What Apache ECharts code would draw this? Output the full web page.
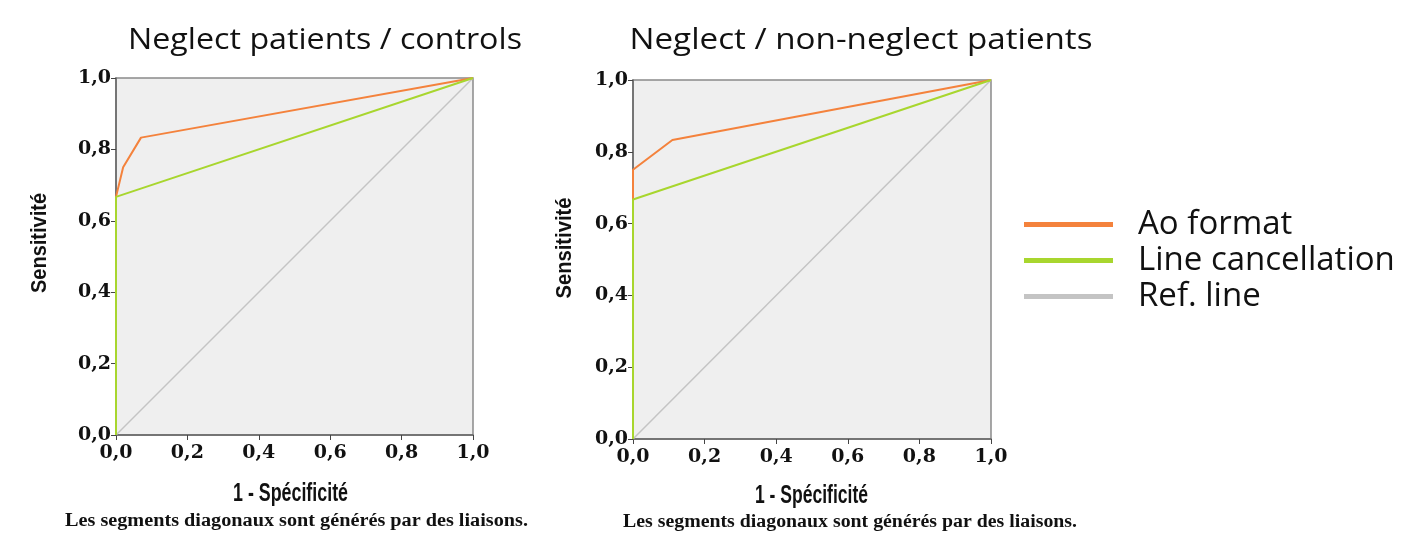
<!DOCTYPE html>
<html>
<head>
<meta charset="utf-8">
<script src="https://cdn.jsdelivr.net/npm/echarts@6/dist/echarts.min.js"></script>
<style>
html,body{margin:0;padding:0;background:#fff;}
#c{width:1404px;height:539px;}
</style>
</head>
<body>
<div id="c"></div>
<script>
// ---- data ----
const panelTitles = ['Neglect patients / controls', 'Neglect / non-neglect patients'];
const seriesNames = ['Ao format', 'Line cancellation', 'Ref. line'];
// points are [1 - specificity, sensitivity]
const aoLeft   = [[0,0],[0,0.667],[0.02,0.75],[0.07,0.833],[1,1]];
const lineLeft = [[0,0],[0,0.667],[1,1]];
const aoRight  = [[0,0],[0,0.75],[0.11,0.833],[1,1]];
const lineRight= [[0,0],[0,0.667],[1,1]];
const refLine  = [[0,0],[1,1]];
const xName = '1 - Spécificité';
const yName = 'Sensitivité';
const footnote = 'Les segments diagonaux sont générés par des liaisons.';

const colors = {'Ao format':'#f4823c','Line cancellation':'#a8d62e','Ref. line':'#c4c4c4'};
const serif = '"Liberation Serif","DejaVu Serif",serif';
const tickSerif = '"DejaVu Serif","Liberation Serif",serif';
const sansB = '"Liberation Sans",Arial,sans-serif';
const sans = '"Open Sans",Lato,sans-serif';

const grids = [
  {left:116, top:78, width:357, height:357},
  {left:633, top:80, width:358, height:359}
];

function fmt(v){ return v.toFixed(1).replace('.', ','); }

// text fitting helper: measure and compute horizontal scale to hit a target width
const mctx = document.createElement('canvas').getContext('2d');
function fitText(text, font, cx, cy, targetW, rot){
  mctx.font = font;
  const w = mctx.measureText(text).width;
  return {
    type:'text', x:cx, y:cy, rotation: rot||0, scaleX: targetW / w, silent:true,
    style:{text, font, fill:'#111', textAlign:'center', textVerticalAlign:'middle'}
  };
}

const xAxes = grids.map((g,i)=>({
  type:'value', gridIndex:i, min:0, max:1, interval:0.2,
  axisLine:{show:true, onZero:false, lineStyle:{color:'#666', width:1.5}},
  axisTick:{show:true, length:5, lineStyle:{color:'#444'}},
  axisLabel:{formatter:fmt, fontFamily:tickSerif, fontWeight:'bold', fontSize:19, color:'#111', margin:9},
  splitLine:{show:false}
}));
const yAxes = grids.map((g,i)=>({
  type:'value', gridIndex:i, min:0, max:1, interval:0.2,
  axisLine:{show:true, onZero:false, lineStyle:{color:'#666', width:1.5}},
  axisTick:{show:true, length:5, lineStyle:{color:'#444'}},
  axisLabel:{formatter:fmt, fontFamily:tickSerif, fontWeight:'bold', fontSize:19, color:'#111', margin:5},
  splitLine:{show:false}
}));

function mk(name, data, idx){
  return {
    name, type:'line', xAxisIndex:idx, yAxisIndex:idx, data,
    symbol:'none', animation:false,
    lineStyle:{color:colors[name], width: name==='Ref. line'?1.5:2},
    itemStyle:{color:colors[name]}
  };
}

// drawing order: ref line, Ao format, then Line cancellation on top (green visible on x=0 segment)
const series = [
  mk('Ref. line', refLine, 0), mk('Ao format', aoLeft, 0), mk('Line cancellation', lineLeft, 0),
  mk('Ref. line', refLine, 1), mk('Ao format', aoRight, 1), mk('Line cancellation', lineRight, 1)
];

const titleFont = '29px ' + sans;
const footFont = 'bold 18px ' + serif;
const nameFont = 'bold 25px ' + sansB;
const yNameFont = 'bold 22px ' + sansB;

const graphics = [
  fitText(panelTitles[0], titleFont, 325, 41, 394),
  fitText(panelTitles[1], titleFont, 861, 41, 463),
  fitText(xName, nameFont, 290.5, 494, 115),
  fitText(xName, nameFont, 811.5, 496, 113),
  fitText(yName, yNameFont, 40, 243, 100, Math.PI/2),
  fitText(yName, yNameFont, 565, 248, 101, Math.PI/2),
  fitText(footnote, footFont, 296.5, 521, 463),
  fitText(footnote, footFont, 850, 522, 454)
];

const chart = echarts.init(document.getElementById('c'), null, {renderer:'canvas'});
chart.setOption({
  backgroundColor:'#fff',
  animation:false,
  legend:{
    data:seriesNames, orient:'vertical', left:1024, top:208, padding:0,
    itemWidth:89, itemHeight:5, itemGap:3, icon:'rect',
    textStyle:{fontFamily:sans, fontSize:33, color:'#111', padding:[0,0,6,20]}
  },
  grid: grids.map(g=>Object.assign({show:true, backgroundColor:'#efefef', borderColor:'#8a8a8a', borderWidth:1.5, containLabel:false}, g)),
  xAxis:xAxes,
  yAxis:yAxes,
  graphic:graphics,
  series
});
</script>
</body>
</html>
